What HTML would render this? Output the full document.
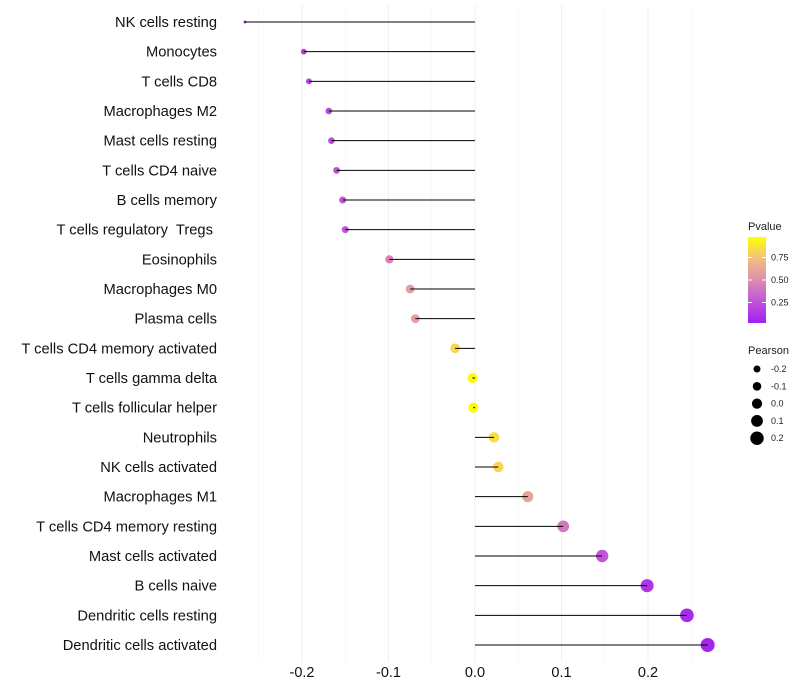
<!DOCTYPE html>
<html><head><meta charset="utf-8"><style>
body{margin:0;background:#fff;}
svg{display:block;font-family:"Liberation Sans",sans-serif;}
text{white-space:pre;}
</style></head><body>
<svg id="chart" width="800" height="700"></svg>
<script>
const categories=["NK cells resting","Monocytes","T cells CD8","Macrophages M2","Mast cells resting","T cells CD4 naive","B cells memory","T cells regulatory  Tregs ","Eosinophils","Macrophages M0","Plasma cells","T cells CD4 memory activated","T cells gamma delta","T cells follicular helper","Neutrophils","NK cells activated","Macrophages M1","T cells CD4 memory resting","Mast cells activated","B cells naive","Dendritic cells resting","Dendritic cells activated"];
const pearson=[-0.266,-0.198,-0.192,-0.169,-0.166,-0.160,-0.153,-0.150,-0.099,-0.075,-0.069,-0.023,-0.003,-0.002,0.022,0.027,0.061,0.102,0.147,0.199,0.245,0.269];
const pvalues=[0.05,0.15,0.16,0.2,0.2,0.23,0.25,0.26,0.45,0.58,0.6,0.85,0.98,0.98,0.87,0.84,0.62,0.4,0.25,0.1,0.05,0.03];
const xTicks=[-0.2,-0.1,0.0,0.1,0.2];
const xTickLabels=["-0.2","-0.1","0.0","0.1","0.2"];
const pTicks=[0.25,0.5,0.75];
const pTickLabels=["0.25","0.50","0.75"];
const sizeBreaks=[-0.2,-0.1,0.0,0.1,0.2];
const sizeLabels=["-0.2","-0.1","0.0","0.1","0.2"];

const NS="http://www.w3.org/2000/svg";
const svg=document.getElementById('chart');
function mk(tag,attrs,parent){const e=document.createElementNS(NS,tag);for(const k in attrs)e.setAttribute(k,attrs[k]);(parent||svg).appendChild(e);return e;}
const x=v=>475+v*865;
const y=i=>22+i*(623/(categories.length-1));
const minV=Math.min(...pearson),maxV=Math.max(...pearson);
const r=v=>Math.sqrt(2.25+(v-minV)/(maxV-minV)*46.75);
const stops=[[0,[160,32,240]],[0.25,[192,85,216]],[0.5,[222,141,176]],[0.75,[240,192,128]],[1,[255,255,0]]];
function col(p){for(let i=1;i<stops.length;i++){if(p<=stops[i][0]){const a=stops[i-1],b=stops[i];const t=(p-a[0])/(b[0]-a[0]);const c=a[1].map((v,j)=>Math.round(v+(b[1][j]-v)*t));return `rgb(${c})`;}}return 'rgb(255,255,0)';}

for(let g=-0.25;g<=0.2501;g+=0.05){
  const major=Math.abs(Math.round(g*20)%2)===0;
  const l=mk('line',{x1:x(g),x2:x(g),y1:5,y2:662,stroke:major?'#efefef':'#f6f6f6','stroke-width':major?1:0.7});
  
  
}
xTicks.forEach((t,i)=>{
  const tx=mk('text',{x:x(t),y:677,'font-size':14.5,'text-anchor':'middle',fill:'#111'});
  tx.textContent=xTickLabels[i];
  
  
});
categories.forEach((c,i)=>{
  const tx=mk('text',{x:217,y:y(i)+5,'font-size':14.7,'text-anchor':'end',fill:'#111'});
  tx.setAttributeNS("http://www.w3.org/XML/1998/namespace","xml:space","preserve");
  tx.textContent=c;
  
  
  const pt=mk('circle',{cx:x(pearson[i]),cy:y(i),r:r(pearson[i]),fill:col(pvalues[i])});
  
  
  const seg=mk('line',{x1:x(0),x2:x(pearson[i]),y1:y(i),y2:y(i),stroke:'#000','stroke-width':1});
  
  
});
const lt=mk('text',{x:748,y:230,'font-size':11,fill:'#222'});lt.textContent='Pvalue';


const defs=mk('defs',{});
const grad=mk('linearGradient',{id:'pg',x1:0,y1:1,x2:0,y2:0},defs);
stops.forEach(s=>mk('stop',{offset:s[0],'stop-color':col(s[0])},grad));
const bar=mk('rect',{x:748,y:237,width:18,height:86,fill:'url(#pg)'});


const py=p=>325-p*90;
pTicks.forEach((p,i)=>{
  mk('line',{x1:748,x2:752,y1:py(p),y2:py(p),stroke:'#fff'});
  mk('line',{x1:762,x2:766,y1:py(p),y2:py(p),stroke:'#fff'});
  const t=mk('text',{x:771,y:py(p)+3,'font-size':9,fill:'#222'});t.textContent=pTickLabels[i];
  
  
});
const st=mk('text',{x:748,y:354,'font-size':11,fill:'#222'});st.textContent='Pearson';


sizeBreaks.forEach((b,i)=>{
  const cy=369+i*17.3;
  const c=mk('circle',{cx:757,cy:cy,r:3.5+i*0.8,fill:'#000'});
  
  
  const t=mk('text',{x:771,y:cy+3,'font-size':9,fill:'#222'});t.textContent=sizeLabels[i];
  
  
});
</script>
</body></html>
